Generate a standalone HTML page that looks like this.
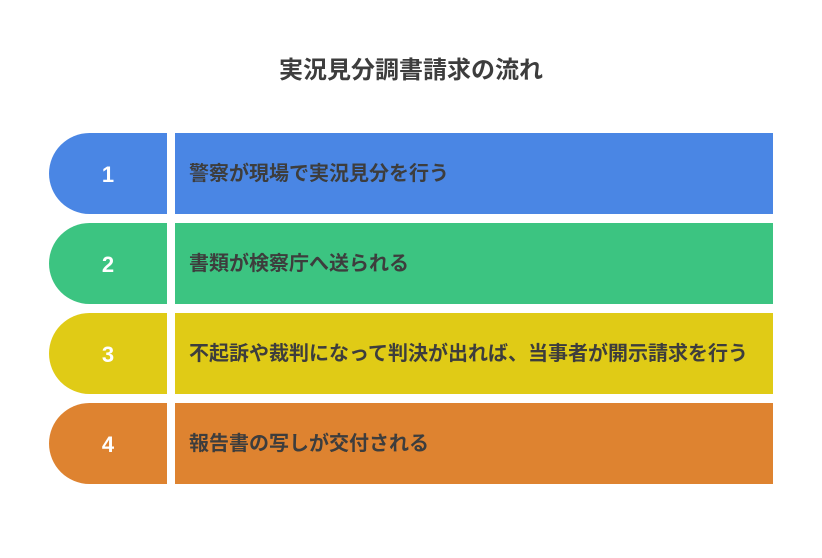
<!DOCTYPE html>
<html><head><meta charset="utf-8"><style>
body{margin:0;width:822px;height:558px;background:#fff;position:relative;overflow:hidden;font-family:"Liberation Sans","Noto Sans CJK JP",sans-serif;}
.t{position:absolute;top:50px;left:0;width:822px;text-align:center;font-size:24px;font-weight:bold;color:#3d3d3d;}
.p{position:absolute;left:49px;width:118px;height:81px;border-radius:41px 0 0 41px;color:#fff;font-weight:bold;font-size:22px;text-align:center;line-height:83px;}
.b{position:absolute;left:175px;width:598px;height:81px;line-height:83px;padding-left:14px;box-sizing:border-box;font-size:20px;font-weight:bold;color:#3d3d3d;white-space:nowrap;}
</style></head><body>
<div class="t">実況見分調書請求の流れ</div>
<div class="p" style="top:133px;background:#4a86e4">1</div><div class="b" style="top:133px;background:#4a86e4">警察が現場で実況見分を行う</div>
<div class="p" style="top:223px;background:#3cc481">2</div><div class="b" style="top:223px;background:#3cc481">書類が検察庁へ送られる</div>
<div class="p" style="top:313px;background:#e0cb16">3</div><div class="b" style="top:313px;background:#e0cb16">不起訴や裁判になって判決が出れば、当事者が開示請求を行う</div>
<div class="p" style="top:403px;background:#de8330">4</div><div class="b" style="top:403px;background:#de8330">報告書の写しが交付される</div>
</body></html>
